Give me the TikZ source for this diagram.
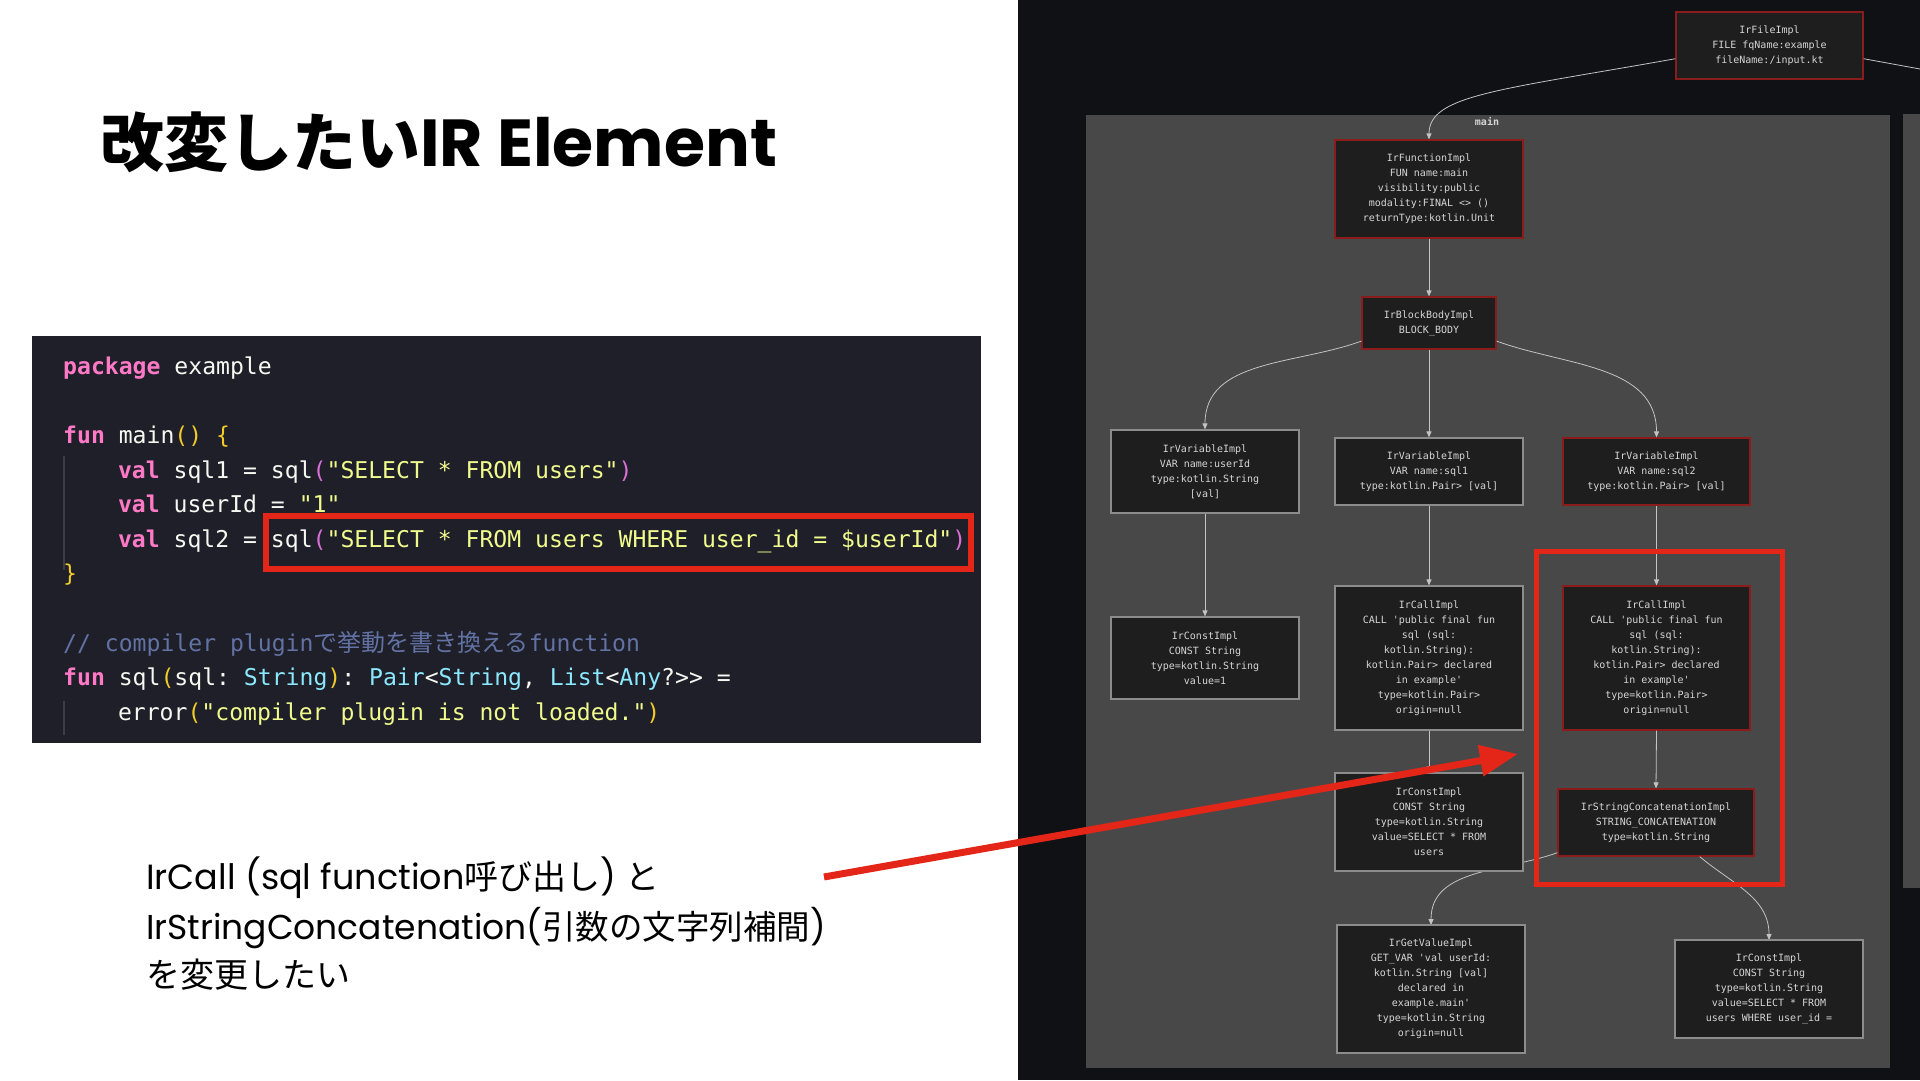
\documentclass[tikz,border=0pt]{standalone}
\usepackage{fontspec}
\usetikzlibrary{arrows.meta}
\setmonofont{DejaVu Sans Mono}
\newfontfamily\cjk{Noto Sans CJK JP}
\newfontfamily\poppins{Poppins}

\definecolor{codebg}{HTML}{1E1F28}
\definecolor{kwpink}{HTML}{FF79C6}
\definecolor{plaintxt}{HTML}{F8F8F2}
\definecolor{strylw}{HTML}{F1FA8C}
\definecolor{brgold}{HTML}{F2CC28}
\definecolor{brpurple}{HTML}{DA70D6}
\definecolor{typecyan}{HTML}{8BE9FD}
\definecolor{cmtblue}{HTML}{6272A4}
\definecolor{guide}{HTML}{3C3D48}
\definecolor{hlred}{HTML}{E42618}
\definecolor{graphbg}{HTML}{0F1115}
\definecolor{clusterbg}{HTML}{484848}
\definecolor{boxfill}{HTML}{1E1E1E}
\definecolor{boxred}{HTML}{8A1C1C}
\definecolor{boxgray}{HTML}{8C8C8C}
\definecolor{boxtext}{HTML}{D6D6D6}
\definecolor{linkgray}{HTML}{C4C4C4}

\newcommand{\kw}[1]{\textcolor{kwpink}{\bfseries #1}}
\newcommand{\strlit}[1]{\textcolor{strylw}{#1}}
\newcommand{\brA}[1]{\textcolor{brgold}{#1}}
\newcommand{\brB}[1]{\textcolor{brpurple}{#1}}
\newcommand{\ty}[1]{\textcolor{typecyan}{#1}}

\tikzset{
  irbox/.style={draw, line width=1.2pt, fill=boxfill, text=boxtext, align=center,
    font=\ttfamily\fontsize{10}{15}\selectfont, inner sep=0pt, minimum width=188pt},
  irred/.style={irbox, draw=boxred},
  irgray/.style={irbox, draw=boxgray},
  irlink/.style={draw=linkgray, line width=0.8pt, -{Triangle[length=6pt,width=5pt]}},
  codeline/.style={anchor=base west, inner sep=0pt, text=plaintxt,
    font=\ttfamily\fontsize{23.1}{34.6}\selectfont},
  notetext/.style={anchor=base west, inner sep=0pt, text=black}
}

\begin{document}
\begin{tikzpicture}[x=1pt, y=1pt]
    \useasboundingbox (0,0) rectangle (1920,1080);
    \fill[white] (0,0) rectangle (1920,1080);

    % Title
    \node[notetext] (title) at (100,913.5)
        {{\cjk\bfseries\fontsize{64}{64}\selectfont 改変したい}{\poppins\bfseries\fontsize{66.5}{66}\selectfont IR Element}};

    % Code panel
    \fill[codebg] (32,337) rectangle (981,744);
    \draw[guide, line width=1.2pt] (64,624) -- (64,510);
    \draw[guide, line width=1.2pt] (64,379) -- (64,345);
    \node[codeline] (codePkg) at (63,705.7) {\kw{package} example};
    \node[codeline] (codeMain) at (63,636.5) {\kw{fun} main\brA{()} \brA{\{}};
    \node[codeline] (codeSqlA) at (117.8,601.9) {\kw{val} sql1 = sql\brB{(}\strlit{"SELECT * FROM users"}\brB{)}};
    \node[codeline] (codeUser) at (117.8,567.3) {\kw{val} userId = \strlit{"1"}};
    \node[codeline] (codeSqlB) at (117.8,532.7) {\kw{val} sql2 = sql\brB{(}\strlit{"SELECT * FROM users WHERE user\_id = \$userId"}\brB{)}};
    \node[codeline] (codeClose) at (63,498.1) {\brA{\}}};
    \node[codeline] (codeCmt) at (63,428.9)
        {\textcolor{cmtblue}{// compiler plugin{\cjk\fontsize{24}{34.6}\selectfont で挙動を書き換える}function}};
    \node[codeline] (codeFun) at (63,394.3)
        {\kw{fun} sql\brA{(}sql: \ty{String}\brA{)}: \ty{Pair}<\ty{String}, \ty{List}<\ty{Any}?>> =};
    \node[codeline] (codeErr) at (117.8,359.7) {error\brA{(}\strlit{"compiler plugin is not loaded."}\brA{)}};

    % Highlight on the sql2 call
    \draw[hlred, line width=6pt] (266,511) rectangle (971,564);

    % Note text
    \node[notetext] (noteA) at (146,191)
        {{\poppins\fontsize{35}{49}\selectfont IrCall (sql function}{\cjk\fontsize{34}{49}\selectfont 呼び出し}{\poppins\fontsize{35}{49}\selectfont ) }{\cjk\fontsize{34}{49}\selectfont と}};
    \node[notetext] (noteB) at (146,141)
        {{\poppins\fontsize{34.5}{49}\selectfont IrStringConcatenation(}{\cjk\fontsize{33.5}{49}\selectfont 引数の文字列補間}{\poppins\fontsize{34.5}{49}\selectfont )}};
    \node[notetext] (noteC) at (146,93)
        {\cjk\fontsize{34}{49}\selectfont を変更したい};

    % Graph panel
    \fill[graphbg] (1018,0) rectangle (1920,1080);
    \fill[clusterbg] (1086,12) rectangle (1890,965);
    \fill[clusterbg] (1903,192) rectangle (1920,966);
    \node[text=boxtext, font=\ttfamily\bfseries\fontsize{10}{12}\selectfont] (mainLabel) at (1487,958) {main};

    % IR nodes
    \node[irred, minimum width=187pt, minimum height=67pt] (irFile) at (1769.5,1034.5)
        {IrFileImpl\\FILE fqName:example\\fileName:/input.kt};
    \node[irred, minimum height=98pt] (irFunc) at (1429,891)
        {IrFunctionImpl\\FUN name:main\\visibility:public\\modality:FINAL <> ()\\returnType:kotlin.Unit};
    \node[irred, minimum width=134pt, minimum height=52pt] (irBlock) at (1429,757)
        {IrBlockBodyImpl\\BLOCK\_BODY};
    \node[irgray, minimum height=83pt] (varUser) at (1205,608.5)
        {IrVariableImpl\\VAR name:userId\\type:kotlin.String\\{[val]}};
    \node[irgray, minimum height=67pt] (varSqlA) at (1429,608.5)
        {IrVariableImpl\\VAR name:sql1\\type:kotlin.Pair> {[val]}};
    \node[irred, minimum width=187pt, minimum height=67pt] (varSqlB) at (1656.5,608.5)
        {IrVariableImpl\\VAR name:sql2\\type:kotlin.Pair> {[val]}};
    \node[irgray, minimum height=82pt] (constOne) at (1205,422)
        {IrConstImpl\\CONST String\\type=kotlin.String\\value=1};
    \node[irgray, minimum height=144pt] (callSqlA) at (1429,422)
        {IrCallImpl\\CALL 'public final fun\\sql (sql:\\kotlin.String):\\kotlin.Pair> declared\\in example'\\type=kotlin.Pair>\\origin=null};
    \node[irred, minimum width=187pt, minimum height=144pt] (callSqlB) at (1656.5,422)
        {IrCallImpl\\CALL 'public final fun\\sql (sql:\\kotlin.String):\\kotlin.Pair> declared\\in example'\\type=kotlin.Pair>\\origin=null};
    \node[irred, minimum width=196pt, minimum height=67pt] (strConcat) at (1656,257.5)
        {IrStringConcatenationImpl\\STRING\_CONCATENATION\\type=kotlin.String};

    % Links drawn below the boxes they pass behind
    \draw[irlink] (strConcat.197) to[out=200, in=90] (1431,155) coordinate (getTop);
    \draw[irlink] (strConcat.322) to[out=-40, in=90] (1769,140) coordinate (whereTop);

    \node[irgray, minimum height=98pt] (constUsers) at (1429,258)
        {IrConstImpl\\CONST String\\type=kotlin.String\\value=SELECT * FROM\\users};
    \node[irgray, minimum height=128pt] (getValue) at (1431,91)
        {IrGetValueImpl\\GET\_VAR 'val userId:\\kotlin.String {[val]}\\declared in\\example.main'\\type=kotlin.String\\origin=null};
    \node[irgray, minimum height=98pt] (constWhere) at (1769,91)
        {IrConstImpl\\CONST String\\type=kotlin.String\\value=SELECT * FROM\\users WHERE user\_id =};

    % Links
    \coordinate (offRight) at (1920,1011);
    \draw[draw=linkgray, line width=0.8pt] (irFile.352) -- (offRight);
    \draw[irlink] (irFile.188) .. controls (1500,990) and (1429,985) .. (irFunc.north);
    \draw[irlink] (irFunc.south) -- (irBlock.north);
    \draw[irlink] (irBlock.195) to[out=200, in=90] (varUser.north);
    \draw[irlink] (irBlock.south) -- (varSqlA.north);
    \draw[irlink] (irBlock.345) to[out=-20, in=90] (varSqlB.north);
    \draw[irlink] (varUser.south) -- (constOne.north);
    \draw[irlink] (varSqlA.south) -- (callSqlA.north);
    \draw[irlink] (varSqlB.south) -- (callSqlB.north);
    \draw[irlink] (callSqlA.south) -- (constUsers.north);
    \draw[irlink] (callSqlB.south) -- (strConcat.north);

    % Highlight around the call and the concatenation
    \draw[hlred, line width=5pt] (1536,196) rectangle (1782,528);

    % Pointer from the note
    \coordinate (arrowTail) at (824,203);
    \coordinate (arrowTip) at (1518,326);
    \draw[hlred, line width=7pt, -{Triangle[length=38pt,width=30pt]}] (arrowTail) -- (arrowTip);
\end{tikzpicture}
\end{document}
